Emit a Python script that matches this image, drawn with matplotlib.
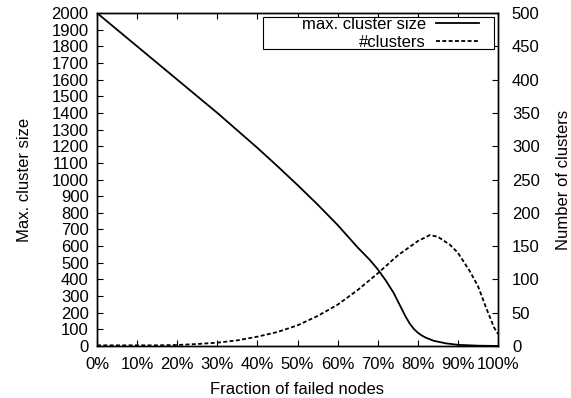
import matplotlib
matplotlib.use("Agg")
import matplotlib.pyplot as plt
from matplotlib.patches import Rectangle

plt.rcParams['font.family'] = ['Liberation Sans', 'DejaVu Sans']

# Data (fraction of failed nodes in %)
frac_max = [0, 5, 10, 15, 20, 25, 30, 35, 40, 45, 50, 55, 60, 65, 68, 70, 72, 74, 76, 77, 78, 79, 80, 81, 82, 84, 87, 90, 95, 100]
max_cluster = [2000, 1900, 1800, 1700, 1600, 1500, 1400, 1295, 1190, 1080, 967, 850, 727, 592, 518, 461, 394, 318, 222, 175, 134, 103, 80, 63, 50, 31, 16, 7, 2, 0]

frac_num = [0, 5, 10, 15, 20, 25, 30, 35, 40, 45, 50, 55, 60, 65, 70, 75, 80, 83, 85, 88, 90, 93, 95, 97, 99, 100]
num_clusters = [1, 1, 1, 1, 1.5, 3, 5, 8.5, 14, 21, 31, 45, 62, 84, 109, 136, 157.5, 166.5, 164, 152, 140, 112, 90, 58, 28, 18]

xticks = [0, 10, 20, 30, 40, 50, 60, 70, 80, 90, 100]
xticklabels = [f"{v}%" for v in xticks]
left_ticks = list(range(0, 2001, 100))
right_ticks = list(range(0, 501, 50))

FS = 12
W, H = 571, 398
fig = plt.figure(figsize=(W/100, H/100), dpi=100)
ax = fig.add_axes([97/W, 52/H, 401/W, 333/H])
ax2 = ax.twinx()

l1, = ax.plot(frac_max, max_cluster, color='black', lw=1.3, label='max. cluster size')
l2, = ax2.plot(frac_num, num_clusters, color='black', lw=1.3, linestyle=(0, (2.2, 1.3)), label='#clusters')

ax.set_xlim(0, 100)
ax.set_ylim(0, 2000)
ax2.set_ylim(0, 500)

ax.set_xticks(xticks)
ax.set_xticklabels(xticklabels)
ax.set_yticks(left_ticks)
ax2.set_yticks(right_ticks)

ax.tick_params(axis='x', which='both', direction='in', top=True, length=4, width=0.8, labelsize=FS, pad=8)
ax.tick_params(axis='y', which='both', direction='in', right=False, length=4, width=0.8, labelsize=FS, pad=6)
ax2.tick_params(axis='y', direction='in', length=4, width=0.8, labelsize=FS, pad=10)

ax.set_xlabel('Fraction of failed nodes', fontsize=FS, labelpad=7)
ax.set_ylabel('Max. cluster size', fontsize=FS, labelpad=14)
ax2.set_ylabel('Number of clusters', fontsize=FS, labelpad=12)

for a in (ax, ax2):
    for s in a.spines.values():
        s.set_linewidth(1.0)

# legend frame (gnuplot-style box)
def fx(px):
    return (px - 97) / 401
def fy(py):
    return (346 - py) / 333

ax2.add_patch(Rectangle((fx(263), fy(49)), fx(494) - fx(263), fy(17) - fy(49),
                        transform=ax2.transAxes, facecolor='white', edgecolor='black',
                        linewidth=0.8, zorder=4))

leg = ax2.legend(handles=[l1, l2], loc='upper right', bbox_to_anchor=(fx(479), fy(17)),
                 markerfirst=False, frameon=False,
                 fontsize=FS, handlelength=2.6, labelspacing=0.17, borderpad=0,
                 handletextpad=0.6, borderaxespad=0)
leg.set_zorder(5)
for t in leg.get_texts():
    t.set_ha('right')
leg._legend_box.align = 'right'

fig.savefig('out.png', dpi=100)
